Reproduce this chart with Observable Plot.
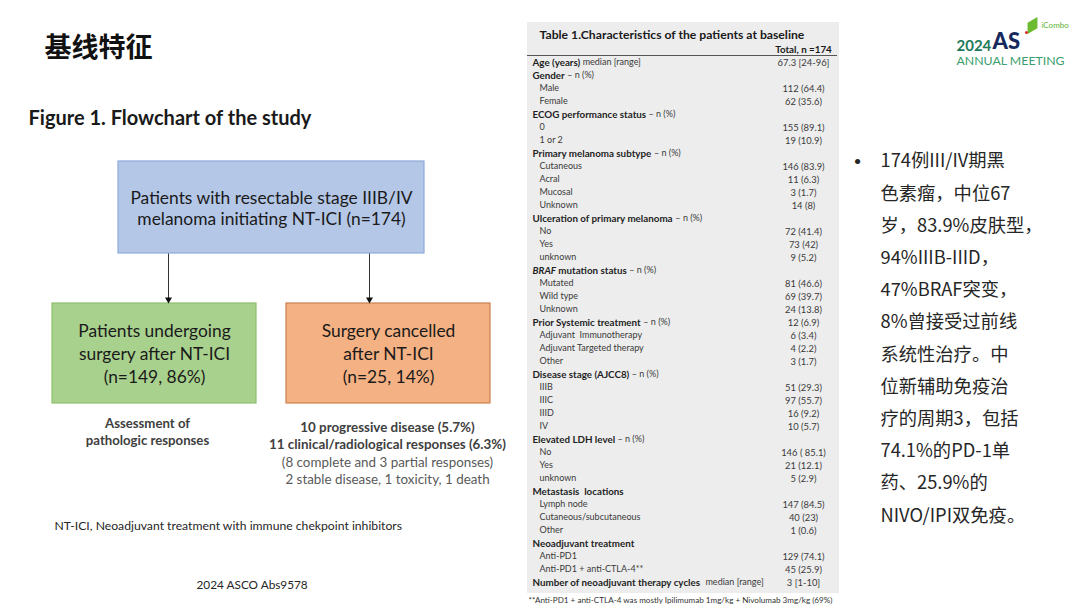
<!DOCTYPE html>
<html>
<head>
<meta charset="utf-8">
<script src="https://cdn.jsdelivr.net/npm/d3@7"></script>
<script src="https://cdn.jsdelivr.net/npm/@observablehq/plot@0.6"></script>
<style>
  html, body { margin: 0; padding: 0; background: #ffffff; }
  #chart svg { display: block; }
</style>
</head>
<body>
<div id="chart"></div>
<script>
// ---------------- DATA ----------------
const slideTitle = "基线特征";
const figureTitle = "Figure 1. Flowchart of the study";
const rootBoxLines = ["Patients with resectable stage IIIB/IV", "melanoma initiating NT-ICI (n=174)"];
const surgeryBoxLines = ["Patients undergoing", "surgery after NT-ICI", "(n=149, 86%)"];
const cancelBoxLines = ["Surgery cancelled", "after NT-ICI", "(n=25, 14%)"];
const surgeryNotes = ["Assessment of", "pathologic responses"];
const cancelNotesBold = ["10 progressive disease (5.7%)", "11 clinical/radiological responses (6.3%)"];
const cancelNotesPlain = ["(8 complete and 3 partial responses)", "2 stable disease, 1 toxicity, 1 death"];
const abbreviationNote = "NT-ICI, Neoadjuvant treatment with immune chekpoint inhibitors";
const sourceNote = "2024 ASCO Abs9578";

const tableTitle = "Table 1.Characteristics of the patients at baseline";
const tableColumnHeader = "Total, n =174";
const rowLabels = [
  "Age (years)", "Gender", "Male", "Female", "ECOG performance status", "0", "1 or 2",
  "Primary melanoma subtype", "Cutaneous", "Acral", "Mucosal", "Unknown",
  "Ulceration of primary melanoma", "No", "Yes", "unknown",
  "BRAF mutation status", "Mutated", "Wild type", "Unknown",
  "Prior Systemic treatment", "Adjuvant  Immunotherapy", "Adjuvant Targeted therapy", "Other",
  "Disease stage (AJCC8)", "IIIB", "IIIC", "IIID", "IV",
  "Elevated LDH level", "No", "Yes", "unknown",
  "Metastasis  locations", "Lymph node", "Cutaneous/subcutaneous", "Other",
  "Neoadjuvant treatment", "Anti-PD1", "Anti-PD1 + anti-CTLA-4**",
  "Number of neoadjuvant therapy cycles"
];
const rowIsHeader = [
  1,1,0,0,1,0,0,
  1,0,0,0,0,
  1,0,0,0,
  1,0,0,0,
  1,0,0,0,
  1,0,0,0,0,
  1,0,0,0,
  1,0,0,0,
  1,0,0,
  1
];
const rowSuffix = [
  "median [range]", "– n (%)", "", "", "– n (%)", "", "",
  "– n (%)", "", "", "", "",
  "– n (%)", "", "", "",
  "– n (%)", "", "", "",
  "– n (%)", "", "", "",
  "– n (%)", "", "", "", "",
  "– n (%)", "", "", "",
  "", "", "", "",
  "", "", "",
  " median [range]"
];
const rowValues = [
  "67.3 [24-96]", "", "112 (64.4)", "62 (35.6)", "", "155 (89.1)", "19 (10.9)",
  "", "146 (83.9)", "11 (6.3)", "3 (1.7)", "14 (8)",
  "", "72 (41.4)", "73 (42)", "9 (5.2)",
  "", "81 (46.6)", "69 (39.7)", "24 (13.8)",
  "12 (6.9)", "6 (3.4)", "4 (2.2)", "3 (1.7)",
  "", "51 (29.3)", "97 (55.7)", "16 (9.2)", "10 (5.7)",
  "", "146 ( 85.1)", "21 (12.1)", "5 (2.9)",
  "", "147 (84.5)", "40 (23)", "1 (0.6)",
  "", "129 (74.1)", "45 (25.9)",
  "3 [1-10]"
];
const italicTerms = ["BRAF"];
const tableFootnote = "**Anti-PD1 + anti-CTLA-4 was mostly Ipilimumab 1mg/kg + Nivolumab 3mg/kg (69%)";

const bulletLines = [
  "174例III/IV期黑", "色素瘤，中位67", "岁，83.9%皮肤型，", "94%IIIB-IIID，",
  "47%BRAF突变，", "8%曾接受过前线", "系统性治疗。中", "位新辅助免疫治",
  "疗的周期3，包括", "74.1%的PD-1单", "药、25.9%的", "NIVO/IPI双免疫。"
];
const logoYear = "2024";
const logoMark = "AS";
const logoSub = "ANNUAL MEETING";
const logoPartner = "iCombo";

// ---------------- LAYOUT / STYLE ----------------
const W = 1080, H = 608;
const LATIN = "Lato, 'Open Sans', sans-serif";
const CJK = "'Noto Sans CJK SC', sans-serif";

const ctx = document.createElement("canvas").getContext("2d");
function textWidth(t, size, weight = "normal", style = "normal", family = LATIN) {
  ctx.font = `${style} ${weight} ${size}px ${family}`;
  return ctx.measureText(t).width;
}

// flowchart geometry
const root = {x1: 118, x2: 424, y1: 161, y2: 253};
const branchTop = 303, branchBottom = 403;
const left = {x1: 52, x2: 256};
const right = {x1: 286, x2: 490};
const arrowXs = [168, 369];
const boxFont = 17.4, boxLine = 23;

const boxes = [
  {...root, fill: "#b4c7e7", stroke: "#8eaadb"},
  {...left, y1: branchTop, y2: branchBottom, fill: "#a9d18e", stroke: "#8dc06c"},
  {...right, y1: branchTop, y2: branchBottom, fill: "#f4b183", stroke: "#c98150"}
];

function centeredLines(lines, cx, cy, step) {
  const n = lines.length;
  return lines.map((t, i) => ({t, x: cx, y: cy + (i - (n - 1) / 2) * step}));
}
const boxTexts = [
  ...centeredLines(rootBoxLines, (root.x1 + root.x2) / 2, (root.y1 + root.y2) / 2 + 1, boxLine - 2),
  ...centeredLines(surgeryBoxLines, (left.x1 + left.x2) / 2, (branchTop + branchBottom) / 2 + 1, boxLine),
  ...centeredLines(cancelBoxLines, (right.x1 + right.x2) / 2, (branchTop + branchBottom) / 2 + 1, boxLine)
];
const arrows = arrowXs.map(x => ({x, y1: root.y2, y2: branchTop - 1}));

const noteStep = 17.4;
const leftNotes = surgeryNotes.map((t, i) => ({t, x: 147, y: 423 + i * noteStep}));
const rightNotesBold = cancelNotesBold.map((t, i) => ({t, x: 387, y: 427 + i * noteStep}));
const rightNotesPlain = cancelNotesPlain.map((t, i) => ({t, x: 387, y: 427 + (i + 2) * noteStep}));

// table geometry
const tbl = {x1: 527, x2: 839, y1: 22, y2: 593};
const rowY0 = 62, rowStep = 13;
const tBold = 9.8, tPlain = 9.0, tValue = 9.4;
const headerX = 532, subX = 539, valueX = 803;

const segBold = [], segBoldItalic = [], segNormal = [], subRows = [], values = [];
rowLabels.forEach((label, i) => {
  const y = rowY0 + i * rowStep;
  if (rowValues[i]) values.push({t: rowValues[i], x: valueX, y});
  if (!rowIsHeader[i]) { subRows.push({t: label, x: subX, y}); return; }
  let x = headerX;
  const space = textWidth(" ", tBold, "bold");
  const term = italicTerms.find(k => label.startsWith(k));
  if (term) {
    segBoldItalic.push({t: term, x, y});
    x += textWidth(term, tBold, "bold", "italic") + space;
    const rest = label.slice(term.length).trim();
    segBold.push({t: rest, x, y});
    x += textWidth(rest, tBold, "bold");
  } else {
    segBold.push({t: label, x, y});
    x += textWidth(label, tBold, "bold");
  }
  const suf = rowSuffix[i];
  if (suf) {
    const lead = suf.length - suf.trimStart().length;
    x += space * Math.max(1, lead + 1);
    segNormal.push({t: suf.trim(), x, y});
  }
});

// bullets
const bulletX = 880, bulletY0 = 161, bulletStep = 32.2;
const bullets = bulletLines.map((t, i) => ({t, x: bulletX, y: bulletY0 + i * bulletStep}));

const txt = (data, o) => Plot.text(data, {x: "x", y: "y", text: "t", ...o});

const chart = Plot.plot({
  width: W, height: H, margin: 0,
  x: {domain: [0, W], range: [0, W], axis: null},
  y: {domain: [0, H], range: [0, H], axis: null},
  style: {background: "#ffffff", fontFamily: LATIN},
  marks: [
    // slide title
    txt([{t: slideTitle, x: 44, y: 48}], {textAnchor: "start", fontSize: 27, fontWeight: "bold", fontFamily: CJK, fill: "#111"}),
    // figure title
    txt([{t: figureTitle, x: 28, y: 118}], {textAnchor: "start", fontSize: 20, fontWeight: "bold", fill: "#1a1a1a"}),
    // flow boxes
    Plot.rect(boxes, {x1: "x1", x2: "x2", y1: "y1", y2: "y2", fill: "fill", stroke: "stroke", strokeWidth: 1.2}),
    txt(boxTexts, {fontSize: boxFont, fill: "#1a1a1a"}),
    Plot.link(arrows, {x1: "x", x2: "x", y1: "y1", y2: d => d.y2 - 4, stroke: "#333", strokeWidth: 1}),
    Plot.dot(arrows, {x: "x", y: d => d.y2 - 3, symbol: "triangle", r: 2.6, rotate: 180, fill: "#111", stroke: null}),
    txt(leftNotes, {fontSize: 13.2, fontWeight: "bold", fill: "#404040"}),
    txt(rightNotesBold, {fontSize: 13.4, fontWeight: "bold", fill: "#404040"}),
    txt(rightNotesPlain, {fontSize: 13.4, fill: "#595959"}),
    txt([{t: abbreviationNote, x: 54, y: 526}], {textAnchor: "start", fontSize: 12.2, fill: "#262626"}),
    txt([{t: sourceNote, x: 196, y: 585}], {textAnchor: "start", fontSize: 11.8, fill: "#262626"}),

    // table
    Plot.rect([tbl], {x1: "x1", x2: "x2", y1: "y1", y2: "y2", fill: "#ededed"}),
    txt([{t: tableTitle, x: 539, y: 35}], {textAnchor: "start", fontSize: 12.2, fontWeight: "bold", fill: "#1a1a1a"}),
    txt([{t: tableColumnHeader, x: valueX, y: 49}], {fontSize: tBold, fontWeight: "bold", fill: "#1a1a1a"}),
    Plot.ruleY([55], {x1: tbl.x1, x2: tbl.x2 - 2, stroke: "#555", strokeWidth: 1.2}),
    txt(segBold, {textAnchor: "start", fontSize: tBold, fontWeight: "bold", fill: "#1f1f1f"}),
    txt(segBoldItalic, {textAnchor: "start", fontSize: tBold, fontWeight: "bold", fontStyle: "italic", fill: "#1f1f1f"}),
    txt(segNormal, {textAnchor: "start", fontSize: tPlain, fill: "#3a3a3a"}),
    txt(subRows, {textAnchor: "start", fontSize: tPlain, fill: "#3a3a3a"}),
    txt(values, {fontSize: tValue, fill: "#3a3a3a"}),
    txt([{t: tableFootnote, x: 528, y: 600}], {textAnchor: "start", fontSize: 8.1, fill: "#333"}),

    // bullet text
    txt([{t: "•", x: 857, y: 161}], {fontSize: 14, fill: "#262626", fontFamily: LATIN}),
    txt(bullets, {textAnchor: "start", fontSize: 18.3, fill: "#262626", fontFamily: CJK}),

    // logo
    txt([{t: logoYear, x: 956, y: 46}], {textAnchor: "start", fontSize: 15, fontWeight: "bold", fill: "#1f7a5a"}),
    txt([{t: logoMark, x: 992, y: 41}], {textAnchor: "start", fontSize: 22, fontWeight: "900", fill: "#17295c"}),
    txt([{t: logoSub, x: 956, y: 61}], {textAnchor: "start", fontSize: 12.3, fill: "#3a9e6e"}),
    Plot.dot([{x: 1032, y: 25}], {x: "x", y: "y", symbol: "diamond", r: 6, fill: "#6cbb2f", rotate: 30}),
    Plot.dot([{x: 1026, y: 32}], {x: "x", y: "y", r: 1.6, fill: "#e0302a"}),
    txt([{t: logoPartner, x: 1041, y: 25}], {textAnchor: "start", fontSize: 8, fill: "#5cb531"})
  ]
});
document.getElementById("chart").appendChild(chart);
</script>
</body>
</html>
